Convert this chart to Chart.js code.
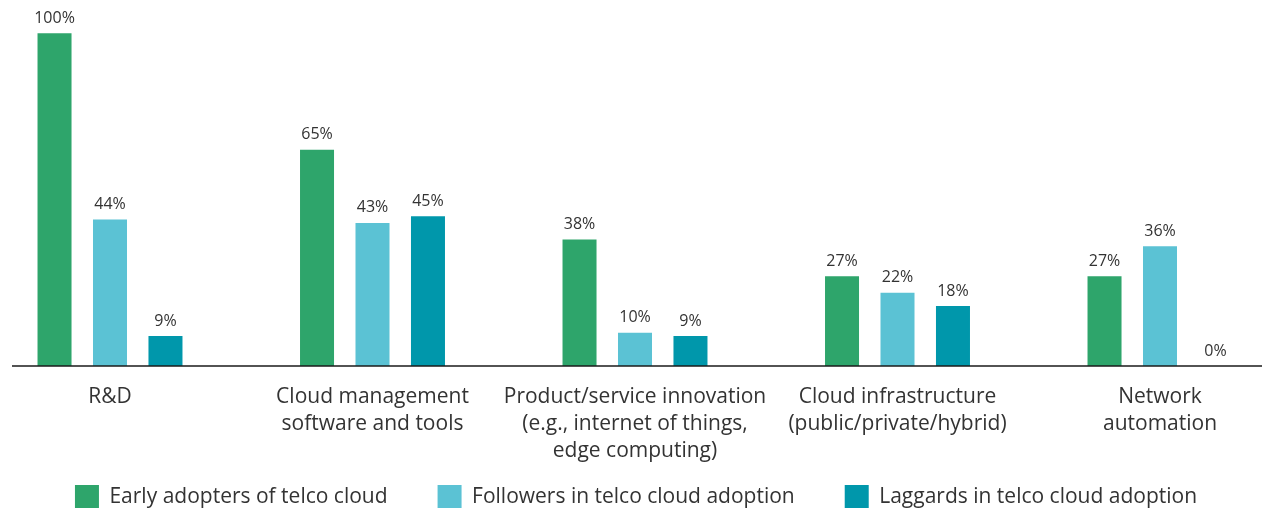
<!DOCTYPE html>
<html>
<head>
<meta charset="utf-8">
<style>
  html, body { margin: 0; padding: 0; background: #fff; }
  #wrap { width: 1272px; height: 508px; }
</style>
<script src="https://cdn.jsdelivr.net/npm/chart.js@4/dist/chart.umd.min.js"></script>
</head>
<body>
<div id="wrap"><canvas id="chart" width="1272" height="508"></canvas></div>
<script>
// 카테고리 (줄바꿈 포함)
const categories = [
  ['R&D'],
  ['Cloud management', 'software and tools'],
  ['Product/service innovation', '(e.g., internet of things,', 'edge computing)'],
  ['Cloud infrastructure', '(public/private/hybrid)'],
  ['Network', 'automation']
];

// 시리즈 이름
const seriesNames = [
  'Early adopters of telco cloud',
  'Followers in telco cloud adoption',
  'Laggards in telco cloud adoption'
];

// 시리즈 값 (%)
const earlyAdopters = [100, 65, 38, 27, 27];
const followers = [44, 43, 10, 22, 36];
const laggards = [9, 45, 9, 18, 0];

const seriesColors = ['#2ea56b', '#5bc2d4', '#0097ab'];
const textColor = '#333333';
const fontFamily = '"Open Sans", "Noto Sans", sans-serif';

// 막대 위 값 표시 + 기준선 그리기
const valueLabels = {
  id: 'valueLabels',
  afterLayout(chart) {
    // x축 라벨이 범례 영역까지 잘리지 않도록
    chart.scales.x.bottom = chart.height;
  },
  afterDatasetsDraw(chart) {
    const ctx = chart.ctx;
    const yScale = chart.scales.y;
    const base = yScale.getPixelForValue(0);

    // 기준선 (축 영역보다 넓게)
    ctx.save();
    ctx.strokeStyle = '#1a1a1a';
    ctx.lineWidth = 1.5;
    ctx.beginPath();
    ctx.moveTo(12, base);
    ctx.lineTo(1262, base);
    ctx.stroke();

    ctx.fillStyle = textColor;
    ctx.font = '16px ' + fontFamily;
    ctx.textAlign = 'center';
    ctx.textBaseline = 'bottom';
    chart.data.datasets.forEach((ds, i) => {
      const meta = chart.getDatasetMeta(i);
      meta.data.forEach((bar, j) => {
        ctx.fillText(ds.data[j] + '%', bar.x, bar.y - 7);
      });
    });
    ctx.restore();
  }
};

const datasets = [earlyAdopters, followers, laggards].map((values, i) => ({
  label: seriesNames[i],
  data: values,
  backgroundColor: seriesColors[i],
  borderWidth: 0,
  categoryPercentage: 0.634,
  barPercentage: 0.613,
  clip: false
}));

new Chart(document.getElementById('chart'), {
  type: 'bar',
  data: { labels: categories, datasets: datasets },
  options: {
    responsive: false,
    animation: false,
    layout: {
      padding: 0
    },
    scales: {
      x: {
        offset: false,
        grid: { display: false },
        border: { display: false },
        ticks: {
          color: textColor,
          font: { family: fontFamily, size: 21, lineHeight: 1.3 },
          padding: 9,
          maxRotation: 0,
          autoSkip: false
        },
        // 첫/마지막 카테고리 중심 위치와 축 높이 맞추기
        afterFit(scale) {
          scale.paddingLeft = 110;
          scale.paddingRight = 112;
          scale.height = 69;
        }
      },
      y: {
        display: false,
        min: 0,
        max: 110
      }
    },
    plugins: {
      legend: {
        position: 'bottom',
        maxHeight: 73,
        labels: {
          color: textColor,
          font: { family: fontFamily, size: 21 },
          boxWidth: 24,
          boxHeight: 24,
          padding: 50
        }
      },
      tooltip: { enabled: false }
    }
  },
  plugins: [valueLabels]
});
</script>
</body>
</html>
